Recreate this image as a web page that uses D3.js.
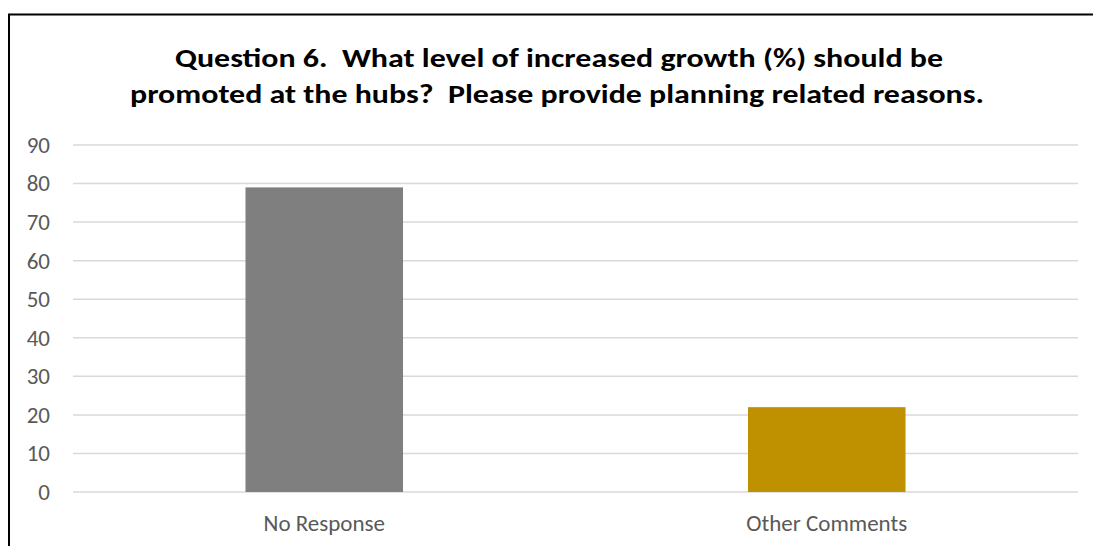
<!DOCTYPE html>
<html><head><meta charset="utf-8">
<script src="https://cdn.jsdelivr.net/npm/d3@7"></script>
<style>html,body{margin:0;padding:0;background:#fff;overflow:hidden;}svg{display:block;}text{white-space:pre;}</style>
</head><body>
<svg id="c" width="1093" height="546"></svg>
<script>
const categories = ["No Response", "Other Comments"];
const values = [79, 22];
const barColors = ["#7f7f7f", "#bf9000"];
const yTicks = [0, 10, 20, 30, 40, 50, 60, 70, 80, 90];
const titleLines = ["Question 6.  What level of increased growth (%) should be",
                    "promoted at the hubs?  Please provide planning related reasons."];

const svg = d3.select("#c");
const font = "Calibri, Carlito, Lato, 'Open Sans', 'Liberation Sans', sans-serif";

// chart border (runs past the window on the right and bottom)
svg.append("path").attr("d", "M9,546 V14.5 H1093")
  .attr("fill", "none").attr("stroke", "#000").attr("stroke-width", 2);

const m = {left: 73, right: 1078, top: 145, bottom: 492};
const x = d3.scaleBand().domain(categories).range([m.left, m.right]).padding(0);
const y = d3.scaleLinear().domain([0, 90]).range([m.bottom, m.top]);

// gridlines
svg.append("g").selectAll("line").data(yTicks).join("line")
  .attr("x1", m.left).attr("x2", m.right)
  .attr("y1", d => y(d)).attr("y2", d => y(d))
  .attr("stroke", "#d9d9d9").attr("stroke-width", 1.5);

// y axis labels
const yAxis = d3.axisLeft(y).tickValues(yTicks).tickSize(0).tickPadding(0);
const gy = svg.append("g").attr("transform", `translate(50,0)`).call(yAxis);
gy.select(".domain").remove();
gy.selectAll("text").attr("font-family", font).attr("font-size", 23).attr("fill", "#595959");

// bars
const barW = x.bandwidth() / 3.19;
svg.append("g").selectAll("rect").data(values).join("rect")
  .attr("x", (d, i) => x(categories[i]) + x.bandwidth() / 2 - barW / 2)
  .attr("width", barW)
  .attr("y", d => y(d))
  .attr("height", d => y(0) - y(d))
  .attr("fill", (d, i) => barColors[i]);

// x axis labels
const xAxis = d3.axisBottom(x).tickSize(0).tickPadding(0);
const gx = svg.append("g").attr("transform", `translate(0,${m.bottom})`).call(xAxis);
gx.select(".domain").remove();
gx.selectAll("text").attr("y", 39).attr("dy", 0)
  .attr("font-family", font).attr("font-size", 23).attr("fill", "#595959");

// title
const tw = [768, 854];
const tx = [559, 557];
svg.append("g").selectAll("text").data(titleLines).join("text")
  .attr("x", (d, i) => tx[i]).attr("y", (d, i) => 67 + i * 36)
  .attr("text-anchor", "middle")
  .attr("font-family", font).attr("font-weight", 800).attr("font-size", 26)
  .attr("fill", "#000")
  .attr("textLength", (d, i) => tw[i]).attr("lengthAdjust", "spacingAndGlyphs")
  .text(d => d);
</script>
</body></html>
